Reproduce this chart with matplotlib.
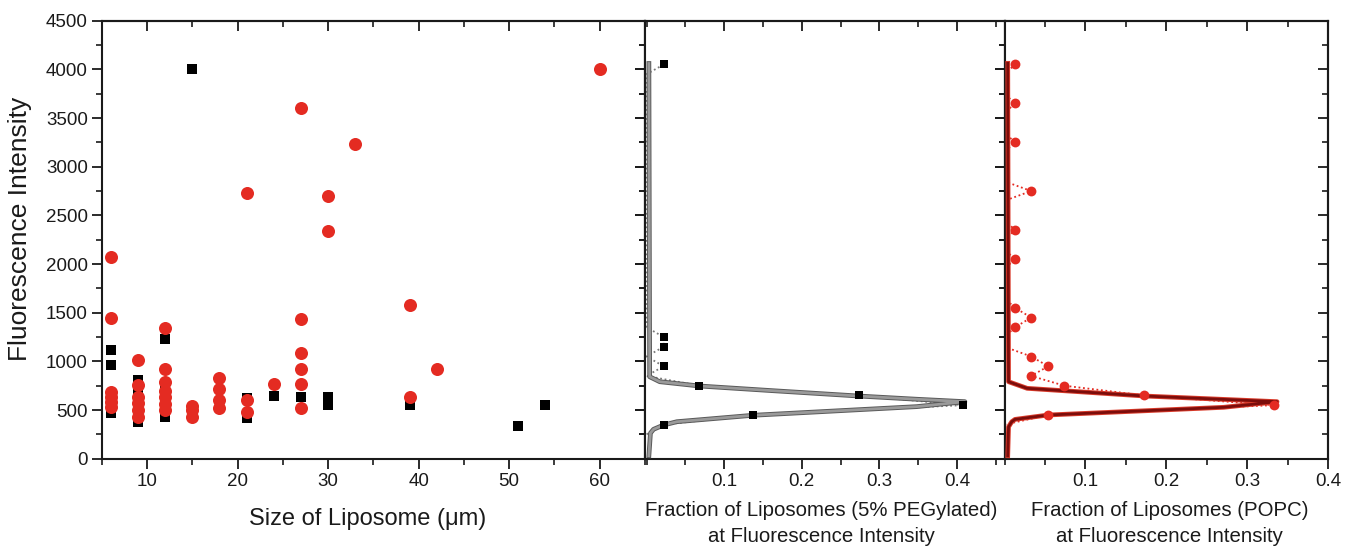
import matplotlib
matplotlib.use("Agg")
import matplotlib.pyplot as plt
import matplotlib.patheffects as pe
from matplotlib.ticker import MultipleLocator, FixedLocator

plt.rcParams['font.family'] = ['Liberation Sans', 'DejaVu Sans']

# ---------------- data ----------------
# Left panel: size vs fluorescence intensity
peg_size = [6, 6, 6, 9, 9, 9, 12, 12, 12, 15, 21, 21, 24, 27, 30, 30, 39, 51, 54]
peg_intensity = [1117, 963, 470, 808, 672, 380, 1227, 737, 425, 4000, 620, 415, 644, 631, 637, 551, 551, 339, 551]

popc_size = [6, 6, 6, 6, 6, 6,
             9, 9, 9, 9, 9, 9,
             12, 12, 12, 12, 12, 12, 12,
             15, 15, 15,
             18, 18, 18, 18,
             21, 21, 21,
             24,
             27, 27, 27, 27, 27, 27,
             30, 30, 33, 39, 39, 42, 60]
popc_intensity = [2069, 1445, 690, 630, 580, 530,
                  1014, 757, 637, 570, 500, 432,
                  1340, 921, 791, 700, 630, 560, 500,
                  541, 500, 432,
                  826, 713, 603, 520,
                  2727, 603, 483,
                  764,
                  3606, 1432, 1083, 920, 764, 520,
                  2699, 2343, 3230, 1579, 637, 921, 4000]

# Middle panel: PEGylated histogram (fraction per intensity bin) and fit
peg_bin = [250, 350, 450, 550, 650, 750, 850, 950, 1050, 1150, 1250, 1350, 3950, 4050]
peg_frac = [0, 0.022, 0.137, 0.408, 0.273, 0.068, 0, 0.022, 0, 0.022, 0.022, 0, 0, 0.022]
peg_fit_int = [30, 263, 302, 346, 380, 446, 535, 586, 610, 644, 700, 747, 791, 842, 4060]
peg_fit_frac = [0.003, 0.005, 0.009, 0.022, 0.039, 0.137, 0.348, 0.41, 0.35, 0.273, 0.16, 0.068, 0.017, 0.004, 0.003]

# Right panel: POPC histogram and fit
popc_bin = [350, 450, 550, 650, 750, 850, 950, 1050, 1150, 1250, 1350, 1450, 1550, 1650,
            1950, 2050, 2150, 2250, 2350, 2450, 2650, 2750, 2850, 3150, 3250, 3350,
            3550, 3650, 3750, 3950, 4050]
popc_frac = [0, 0.054, 0.333, 0.173, 0.074, 0.033, 0.054, 0.033, 0, 0, 0.013, 0.033, 0.013, 0,
             0, 0.013, 0, 0, 0.013, 0, 0, 0.033, 0, 0, 0.013, 0,
             0, 0.013, 0, 0, 0.013]
popc_fit_int = [30, 327, 380, 404, 449, 528, 586, 644, 723, 791, 4062]
popc_fit_frac = [0.004, 0.005, 0.009, 0.013, 0.054, 0.271, 0.337, 0.173, 0.028, 0.005, 0.004]

y_ticks = [0, 500, 1000, 1500, 2000, 2500, 3000, 3500, 4000, 4500]
size_ticks = [10, 20, 30, 40, 50, 60]
frac_ticks = [0.1, 0.2, 0.3, 0.4]

RED = '#e42b22'
DARKRED = '#7c0d0b'
SPINE = '#1a1a1a'
TEXT = '#1a1a1a'
TICK_FS = 13.5
FRAC_FS = 14.7

# ---------------- figure ----------------
W, H = 1346, 546
fig = plt.figure(figsize=(W / 100, H / 100), dpi=100)

def fx(px):
    return px / W

def fy(py):
    return 1 - py / H

top, bottom = 20.7, 458.7
ax1 = fig.add_axes([fx(101.7), fy(bottom), fx(645 - 101.7), (bottom - top) / H])
ax2 = fig.add_axes([fx(645), fy(bottom), fx(1004.5 - 645), (bottom - top) / H], sharey=ax1)
ax3 = fig.add_axes([fx(1004.5), fy(bottom), fx(1328 - 1004.5), (bottom - top) / H], sharey=ax1)


def style(ax, xmajor, xminor):
    for s in ax.spines.values():
        s.set_linewidth(1.5)
        s.set_color(SPINE)
    ax.set_ylim(0, 4500)
    ax.yaxis.set_major_locator(FixedLocator(y_ticks))
    ax.yaxis.set_minor_locator(MultipleLocator(250))
    ax.xaxis.set_major_locator(FixedLocator(xmajor))
    ax.xaxis.set_minor_locator(MultipleLocator(xminor))
    ax.tick_params(which='major', direction='out', length=7, width=1.3, color=SPINE,
                   labelsize=TICK_FS, pad=3, labelcolor=TEXT)
    ax.tick_params(which='minor', direction='out', length=4, width=1.2, color=SPINE)
    # mirrored ticks pointing inward on top and right
    sx = ax.secondary_xaxis('top')
    sx.xaxis.set_major_locator(FixedLocator(xmajor))
    sx.xaxis.set_minor_locator(MultipleLocator(xminor))
    sx.tick_params(which='major', direction='in', length=7, width=1.3, color=SPINE, labeltop=False)
    sx.tick_params(which='minor', direction='in', length=4, width=1.2, color=SPINE)
    sx.spines['top'].set_linewidth(1.5)
    sx.spines['top'].set_color(SPINE)
    sy = ax.secondary_yaxis('right')
    sy.yaxis.set_major_locator(FixedLocator(y_ticks))
    sy.yaxis.set_minor_locator(MultipleLocator(250))
    sy.tick_params(which='major', direction='in', length=7, width=1.3, color=SPINE, labelright=False)
    sy.tick_params(which='minor', direction='in', length=4, width=1.2, color=SPINE)
    sy.spines['right'].set_linewidth(1.5)
    sy.spines['right'].set_color(SPINE)


# Left scatter
ax1.set_xlim(5, 65)
style(ax1, size_ticks, 5)
ax1.scatter(peg_size, peg_intensity, marker='s', s=62, color='black', linewidths=0, zorder=3)
ax1.scatter(popc_size, popc_intensity, marker='o', s=88, color=RED, linewidths=0, zorder=4)

# Middle: PEGylated distribution
ax2.set_xlim(-0.002, 0.461)
style(ax2, frac_ticks, 0.05)
ax2.tick_params(axis='y', labelleft=False)
ax2.plot(peg_frac, peg_bin, linestyle=(0, (1, 1.5)), color='#7a7a7a', lw=1.3, zorder=2)
ax2.plot(peg_fit_frac, peg_fit_int, color='#9a9a9a', lw=2.0, zorder=3,
         path_effects=[pe.Stroke(linewidth=3.4, foreground='#5a5a5a'), pe.Normal()])
peg_pts = [(f, b) for f, b in zip(peg_frac, peg_bin) if f > 0]
ax2.scatter([p[0] for p in peg_pts], [p[1] for p in peg_pts], marker='s', s=34,
            color='black', linewidths=0, zorder=4)

# Right: POPC distribution
ax3.set_xlim(0, 0.4)
style(ax3, frac_ticks, 0.05)
ax3.tick_params(axis='y', labelleft=False)
ax3.plot(popc_frac, popc_bin, linestyle=(0, (1, 1.5)), color=RED, lw=1.3, zorder=2)
ax3.plot(popc_fit_frac, popc_fit_int, color=DARKRED, lw=2.0, zorder=3,
         path_effects=[pe.Stroke(linewidth=3.4, foreground='#d83a2a'), pe.Normal()])
popc_pts = [(f, b) for f, b in zip(popc_frac, popc_bin) if f > 0]
ax3.scatter([p[0] for p in popc_pts], [p[1] for p in popc_pts], marker='o', s=50,
            color=RED, linewidths=0, zorder=4)

# Axis titles as figure text for precise placement
fig.text(fx(20), fy(229), 'Fluorescence Intensity', ha='center', va='center', rotation=90,
         fontsize=19, color=TEXT)
fig.text(fx(368), fy(519), 'Size of Liposome (\u03bcm)', ha='center', va='center',
         fontsize=17, color=TEXT)
fig.text(fx(821.5), fy(511), 'Fraction of Liposomes (5% PEGylated)', ha='center', va='center',
         fontsize=FRAC_FS, color=TEXT)
fig.text(fx(821.5), fy(537), 'at Fluorescence Intensity', ha='center', va='center',
         fontsize=FRAC_FS, color=TEXT)
fig.text(fx(1169.5), fy(511), 'Fraction of Liposomes (POPC)', ha='center', va='center',
         fontsize=FRAC_FS, color=TEXT)
fig.text(fx(1169.5), fy(537), 'at Fluorescence Intensity', ha='center', va='center',
         fontsize=FRAC_FS, color=TEXT)

fig.savefig('out.png', dpi=100, facecolor='white')
